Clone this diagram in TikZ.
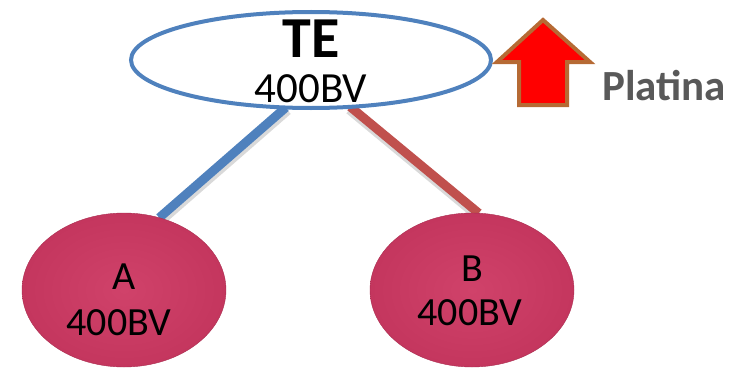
\documentclass[tikz,border=0pt]{standalone}
\usepackage{fontspec}
\setmainfont{Carlito}
\usetikzlibrary{shapes.geometric,backgrounds}
\definecolor{tblue}{HTML}{4F81BD}
\definecolor{tred}{HTML}{C0504D}
\definecolor{pinkin}{RGB}{208,66,106}
\definecolor{pinkout}{RGB}{196,54,94}
\definecolor{pinkedge}{RGB}{170,45,80}
\definecolor{arrowbrown}{RGB}{182,106,52}
\definecolor{txtgray}{HTML}{595959}
\begin{document}
\begin{tikzpicture}[x=1pt,y=-1pt,
  topnode/.style={ellipse,draw=tblue,line width=4pt,fill=white,minimum width=360pt,minimum height=96pt,inner sep=0pt,outer sep=0pt},
  leafnode/.style={ellipse,draw=pinkedge,line width=0.4pt,shading=radial,inner color=pinkin,outer color=pinkout,minimum width=204pt,minimum height=154pt,inner sep=0pt,outer sep=0pt},
  conn/.style={line width=9pt,line cap=butt},
  connshadow/.style={line width=9pt,line cap=butt,draw=black!15},
  lbl/.style={anchor=base,inner sep=0pt,text=black}
]
\useasboundingbox (0,0) rectangle (735,369);
% nodes
\node[topnode] (te) at (311,60) {};
\node[leafnode] (a) at (124,290) {};
\node[leafnode] (b) at (472,290) {};
% connectors behind
\begin{scope}[on background layer]
  \draw[connshadow,transform canvas={xshift=2pt,yshift=-3pt}] (te.-118) -- (a.64);
  \draw[connshadow,transform canvas={xshift=-1pt,yshift=-3pt}] (te.-50) -- (b.85);
  \draw[conn,tblue] (te.-118) -- (a.64);
  \draw[conn,tred] (te.-50) -- (b.85);
\end{scope}
% labels
\node[lbl] (tet) at (311,57) {\fontsize{58}{58}\selectfont\bfseries TE};
\node[lbl] (tev) at (311,102) {\fontsize{43}{43}\selectfont 400BV};
\node[lbl] (at) at (124,289) {\fontsize{40}{40}\selectfont A};
\node[lbl] (av) at (119,335) {\fontsize{40}{40}\selectfont 400BV};
\node[lbl] (bt) at (472,281) {\fontsize{40}{40}\selectfont B};
\node[lbl] (bv) at (470,325) {\fontsize{40}{40}\selectfont 400BV};
% arrow
\draw[line width=4pt,draw=arrowbrown,fill=red,line join=miter]
  (543,20) -- (590,62) -- (567,62) -- (567,105) -- (519,105) -- (519,62) -- (497,62) -- cycle;
\node[anchor=base west,inner sep=0pt,text=txtgray] (plat) at (602,100) {\fontsize{43}{43}\selectfont\bfseries Platina};
\end{tikzpicture}
\end{document}
